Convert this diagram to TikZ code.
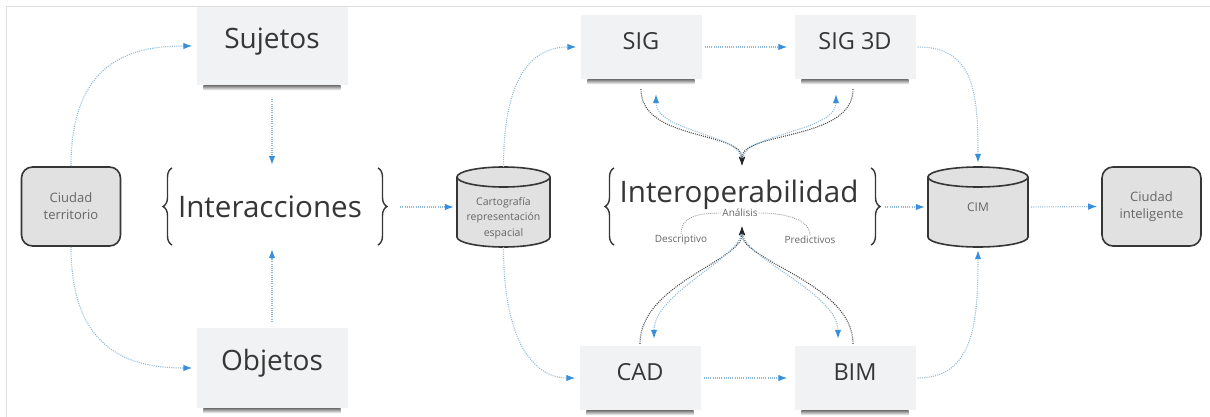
\documentclass[tikz,border=0pt]{standalone}
\usepackage{fontspec}
\setmainfont{Open Sans}
\usetikzlibrary{arrows.meta,decorations.pathreplacing,calc}

\definecolor{cardfill}{HTML}{F1F2F3}
\definecolor{ink}{HTML}{363636}
\definecolor{softink}{HTML}{666666}
\definecolor{tipblue}{HTML}{3A8FDB}
\definecolor{lineblue}{HTML}{8DB8D8}
\definecolor{darkdot}{HTML}{4A4A4A}
\definecolor{greydot}{HTML}{8A8A8A}
\definecolor{termfill}{HTML}{E1E1E1}
\definecolor{framegrey}{HTML}{DDDDDD}

% Cylinder drawn by hand: centre x, centre y, half width, half height, ellipse radius
% (the picture's y axis points down, so the arcs run with decreasing angles)
\newcommand\drawdrum[5]{%
  \filldraw[fill=termfill, draw=ink, line width=1.6pt]
    (#1-#3,#2-#4+#5) -- (#1-#3,#2+#4-#5)
    arc[start angle=180,end angle=0,x radius=#3,y radius=#5]
    -- (#1+#3,#2-#4+#5)
    arc[start angle=0,end angle=-180,x radius=#3,y radius=#5] -- cycle;
  \draw[draw=ink, line width=1.6pt] (#1-#3,#2-#4+#5)
    arc[start angle=180,end angle=0,x radius=#3,y radius=#5];
}

\tikzset{
  card/.style={fill=cardfill, inner sep=0pt, text=ink,
    text height=0.72em, text depth=0.22em},
  bigcard/.style={card, minimum width=151, minimum height=78,
    font=\fontsize{28}{32}\selectfont},
  midcard/.style={card, minimum width=121, minimum height=64,
    font=\fontsize{23.5}{28}\selectfont},
  terminal/.style={fill=termfill, draw=ink, line width=1.6pt, rounded corners=11pt,
    minimum width=99, minimum height=79, align=center, text=softink,
    font=\fontsize{13}{17}\selectfont},
  drumslot/.style={inner sep=0pt, align=center, text=softink},
  group/.style={inner sep=0pt},
  bigword/.style={text=ink, inner sep=0pt, font=\fontsize{29.6}{34}\selectfont},
  smallword/.style={text=softink, inner sep=1pt, font=\fontsize{10}{12}\selectfont},
  curly/.style={decorate, decoration={brace, amplitude=9pt}, draw=ink, line width=1.4pt},
  flow/.style={draw=lineblue, line width=1.1pt, dash pattern=on 1pt off 1.2pt,
    -{Latex[length=9pt,width=6.5pt,color=tipblue]}},
  link/.style={draw=darkdot, line width=1.1pt, dash pattern=on 1pt off 1.1pt},
  linktip/.style={link, -{Latex[length=9pt,width=6.5pt,color=black!85]}},
  branch/.style={draw=greydot, line width=0.9pt, dash pattern=on 0.8pt off 1.2pt},
}

\begin{document}
\begin{tikzpicture}[x=1pt,y=-1pt]
\useasboundingbox (0,0) rectangle (1210,417);
\draw[framegrey, line width=0.8pt] (6,417) -- (6,6) -- (1210,6);

% ---- left part ----
\node[terminal] (ct) at (71,206.5) {Ciudad\\territorio};
\node[bigcard] (sujetos) at (272,46) {Sujetos};
\node[bigcard, minimum height=80] (objetos) at (272,368) {Objetos};
\node[group, minimum width=226, minimum height=78] (interbox) at (275,207) {};
\node[bigword, anchor=base] (inter) at (270,217) {Interacciones};
\draw[curly] (172,245) -- (172,168);
\draw[curly] (378,168) -- (378,245);

% ---- cartography ----
\drawdrum{503.5}{207}{46.5}{40}{10}
\node[drumslot, minimum width=93, minimum height=80] (carto) at (503.5,207) {};
\node[drumslot, font=\fontsize{10.5}{15.5}\selectfont] (cartotext) at (503.5,218)
  {Cartografía\\representación\\espacial};

% ---- tools ----
\node[midcard] (sig) at (641,47) {SIG};
\node[midcard] (sig3d) at (855,47) {SIG 3D};
\node[midcard] (cad) at (640,378) {CAD};
\node[midcard] (bim) at (855,378) {BIM};

% ---- interoperability ----
\node[group, minimum width=278, minimum height=78] (iobox) at (744,207) {};
\node[bigword, anchor=base] (interop) at (739,202) {Interoperabilidad};
\draw[curly] (614,245) -- (614,168);
\draw[curly] (871,168) -- (871,245);
\node[smallword] (analisis) at (740,213) {Análisis};
\node[smallword] (desc) at (681,240) {Descriptivo};
\node[smallword] (pred) at (810,240) {Predictivos};
\draw[branch] (analisis.west) .. controls +(-30,0) and +(0,-14) .. (desc.north);
\draw[branch] (analisis.east) .. controls +(30,0) and +(0,-14) .. (pred.north);

% ---- city model ----
\drawdrum{978}{207}{50}{40}{10}
\node[drumslot, minimum width=100, minimum height=80,
  font=\fontsize{12}{14}\selectfont] (cim) at (978,207) {CIM};
\node[terminal] (ci) at (1151.5,206.5) {Ciudad\\inteligente};

% card shadows
\foreach \c in {sujetos,objetos,sig,sig3d,cad,bim}{
  \shade[top color=black!55, bottom color=white]
    ($(\c.south west)+(7,0)$) rectangle ($(\c.south east)+(-7,5)$);
}

% ---- junction points and ports ----
\coordinate (jt) at (742,166);
\coordinate (jb) at (742,226);
\coordinate (sigport) at ($(sig.south)+(15,0)$);
\coordinate (sig3dport) at ($(sig3d.south)+(-19,0)$);
\coordinate (sig3ddark) at ($(sig3d.south)+(-2,0)$);
\coordinate (cadport) at ($(cad.north)+(14,0)$);
\coordinate (bimport) at ($(bim.north)+(-17,0)$);
\coordinate (bimdark) at ($(bim.north)+(-2,0)$);

% ---- connectors: left ----
\draw[flow, shorten >=4pt] (ct.north) .. controls +(0,-105) and +(-65,0) .. (sujetos.west);
\draw[flow, shorten >=4pt] (ct.south) .. controls +(0,105) and +(-65,0) .. (objetos.west);
\draw[flow, shorten <=14pt, shorten >=3pt] (sujetos.south) -- (sujetos.south |- interbox.north);
\draw[flow, shorten <=6pt, shorten >=3pt] (objetos.north) -- (objetos.north |- interbox.south);
\draw[flow, shorten <=12pt, shorten >=3pt] (interbox.east) -- (carto.west);

% ---- connectors: cartography to tools ----
\draw[flow, shorten >=4pt] (carto.north) .. controls +(0,-95) and +(-45,0) .. (sig.west);
\draw[flow, shorten >=4pt] (carto.south) .. controls +(0,95) and +(-45,0) .. (cad.west);
\draw[flow, shorten <=3pt, shorten >=7pt] (sig.east) -- (sig3d.west);
\draw[flow, shorten <=3pt, shorten >=7pt] (cad.east) -- (bim.west);

% ---- connectors: tools and interoperability ----
\draw[linktip, shorten <=10pt] (sig.south) .. controls +(0,62) and +(0,-35) .. (jt);
\draw[linktip, shorten <=10pt] (sig3ddark) .. controls +(0,62) and +(0,-35) .. (jt);
\draw[flow, shorten <=8pt, shorten >=15pt] (jt) .. controls +(-3,-32) and +(0,52) .. (sigport);
\draw[flow, shorten <=8pt, shorten >=15pt] (jt) .. controls +(3,-32) and +(0,52) .. (sig3dport);

\draw[linktip, shorten <=2pt] (cad.north) .. controls +(0,-62) and +(0,35) .. (jb);
\draw[linktip, shorten <=2pt] (bimdark) .. controls +(0,-62) and +(0,35) .. (jb);
\draw[flow, shorten <=8pt, shorten >=7pt] (jb) .. controls +(-3,32) and +(0,-52) .. (cadport);
\draw[flow, shorten <=8pt, shorten >=7pt] (jb) .. controls +(3,32) and +(0,-52) .. (bimport);

% ---- connectors: city model ----
\draw[flow, shorten <=2pt, shorten >=4pt] (sig3d.east) .. controls +(58,0) and +(0,-75) .. (cim.north);
\draw[flow, shorten <=2pt, shorten >=3pt] (bim.east) .. controls +(58,0) and +(0,75) .. (cim.south);
\draw[flow, shorten <=2pt, shorten >=3pt] (iobox.east) -- (cim.west);
\draw[flow, shorten <=3pt, shorten >=4pt] (cim.east) -- (ci.west);
\end{tikzpicture}
\end{document}
